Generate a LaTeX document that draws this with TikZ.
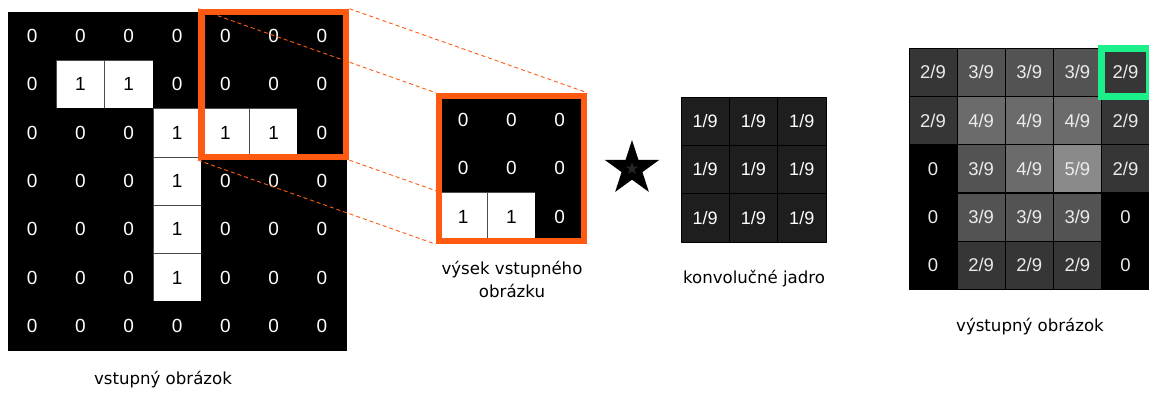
\documentclass[tikz,border=0pt]{standalone}
\usepackage{fontspec}
\setmainfont{DejaVu Sans}
\newfontfamily\numfont{Liberation Sans}
\usetikzlibrary{shapes.geometric}
\pgfdeclarelayer{front}
\pgfsetlayers{main,front}

\definecolor{cutorange}{HTML}{FF5A12}
\definecolor{hitgreen}{HTML}{1CF08A}
\definecolor{kern}{HTML}{1E1E1E}
\colorlet{px0}{black}  \colorlet{pxt0}{white} \colorlet{pxd0}{black}
\colorlet{px1}{white}  \colorlet{pxt1}{black} \colorlet{pxd1}{black!70}
\colorlet{out0}{black}
\definecolor{out2}{HTML}{363636}
\definecolor{out3}{HTML}{535353}
\definecolor{out4}{HTML}{6B6B6B}
\definecolor{out5}{HTML}{8A8A8A}

\tikzset{
  cell/.style={minimum size=48.3pt, inner sep=0pt, line width=0.8pt, font=\numfont\fontsize{19}{19}\selectfont},
  pixel/.style={cell, fill=px#1, text=pxt#1, draw=pxd#1},
  kcell/.style={cell, fill=kern, draw=black, text=white, font=\numfont\fontsize{18}{18}\selectfont},
  ocell/.style={cell, minimum size=48.1pt, fill=out#1, draw=black, text=white!92!black, font=\numfont\fontsize{18.5}{18.5}\selectfont},
  cutframe/.style={draw=cutorange, line width=6.6pt, minimum size=3*48.3pt, inner sep=0pt},
  hitframe/.style={draw=hitgreen, line width=7pt, minimum size=48.1pt, inner sep=0pt},
  zoomline/.style={cutorange, line width=0.9pt, dash pattern=on 4pt off 3pt},
  caption/.style={font=\fontsize{16.6}{23}\selectfont, inner sep=0pt, align=center}
}

\begin{document}
\begin{tikzpicture}[x=1pt, y=-1pt]
\useasboundingbox (0,0) rectangle (1149,392);

% input image
\foreach \row [count=\r from 0] in {{0,0,0,0,0,0,0},{0,1,1,0,0,0,0},{0,0,0,1,1,1,0},{0,0,0,1,0,0,0},{0,0,0,1,0,0,0},{0,0,0,1,0,0,0},{0,0,0,0,0,0,0}}
  \foreach \v [count=\c from 0] in \row
    \node[pixel=\v] (in-\r-\c) at ({8+48.3*(\c+.5)},{12+48.3*(\r+.5)}) {\v};
\node[caption] (inname) at (163,380) {vstupný obrázok};

% cut-out
\begin{pgfonlayer}{front}
\node[cutframe] (crop) at (in-1-5) {};
\foreach \row [count=\r from 0] in {{0,0,0},{0,0,0},{1,1,0}}
  \foreach \v [count=\c from 0] in \row
    \node[pixel=\v] (cut-\r-\c) at ({439+48.3*(\c+.5)},{96+48.3*(\r+.5)}) {\v};
\node[cutframe] (zoom) at (cut-1-1) {};
\end{pgfonlayer}
\foreach \a in {north west,north east,south west,south east}
  \draw[zoomline] (crop.\a) -- (zoom.\a);
\node[caption] (cutname) at (512,279) {výsek vstupného\\obrázku};

% convolution
\node[star, star points=5, star point ratio=2.618, minimum size=57.4pt, inner sep=0pt, fill=black] (conv) at (632,168.7) {};
\node[star, star points=5, star point ratio=2.618, minimum size=13pt, inner sep=0pt, fill=black!85] (convcore) at (conv) {};

% kernel
\foreach \r in {0,1,2}
  \foreach \c in {0,1,2}
    \node[kcell] (k-\r-\c) at ({681+48.3*(\c+.5)},{97+48.3*(\r+.5)}) {1/9};
\node[caption] (kname) at (754,279) {konvolučné jadro};

% output image
\foreach \row [count=\r from 0] in {{2,3,3,3,2},{2,4,4,4,2},{0,3,4,5,2},{0,3,3,3,0},{0,2,2,2,0}}
  \foreach \v [count=\c from 0] in \row
    \node[ocell=\v] (out-\r-\c) at ({909+48.1*(\c+.5)},{48+48.3*(\r+.5)}) {\ifnum\v=0 0\else\v/9\fi};
\node[hitframe] (hit) at (out-0-4) {};
\node[caption] (outname) at (1030,327) {výstupný obrázok};
\end{tikzpicture}
\end{document}
